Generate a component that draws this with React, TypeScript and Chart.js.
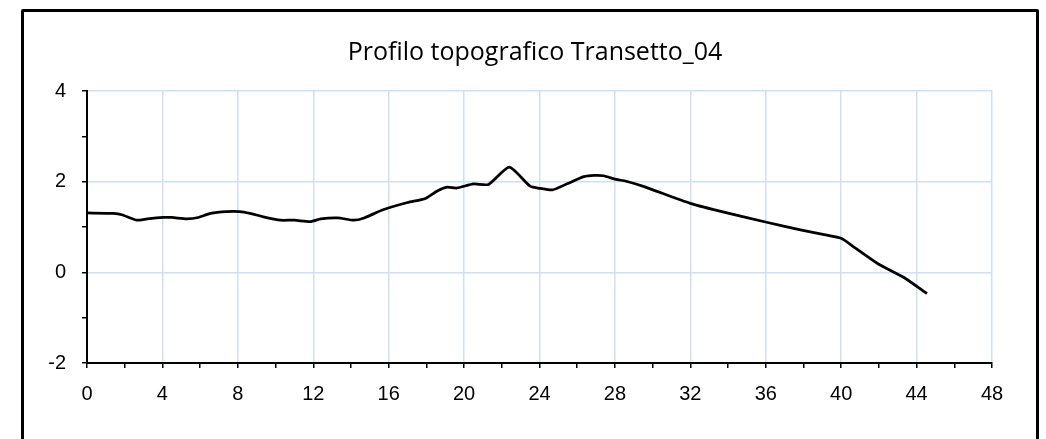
import React, { useEffect, useRef } from "react";
import { Chart, registerables } from "chart.js";

Chart.register(...registerables);

const chartTitle = "Profilo topografico Transetto_04";

const distances = [
  0, 1.4, 1.85, 2.65, 3.2, 4.05, 4.5, 5.3, 5.9, 6.55, 7.4, 8.1, 8.65, 9.3, 10.25, 11.0, 11.85, 12.4,
  13.3, 14.15, 14.7, 15.7, 17.0, 17.95, 18.6, 19.1, 19.6, 20.5, 21.3, 22.4, 23.5, 24.05, 24.7, 25.5,
  26.35, 26.9, 27.4, 28.05, 28.6, 29.55, 32.0, 33.45, 36.1, 37.9, 39.1, 40.0, 40.7, 41.95, 43.35, 44.55,
];

const elevations = [
  1.31, 1.3, 1.27, 1.15, 1.18, 1.21, 1.21, 1.18, 1.21, 1.3, 1.34, 1.34, 1.3, 1.23, 1.15, 1.15, 1.12, 1.18,
  1.2, 1.15, 1.2, 1.38, 1.54, 1.63, 1.8, 1.88, 1.86, 1.95, 1.94, 2.32, 1.9, 1.85, 1.82, 1.96,
  2.11, 2.14, 2.13, 2.05, 2.01, 1.89, 1.52, 1.36, 1.1, 0.93, 0.83, 0.75, 0.55, 0.19, -0.12, -0.47,
];

const xMin = 0;
const xMax = 48;
const xStep = 2;
const xLabelEvery = 4;
const yMin = -2;
const yMax = 4;
const yStep = 1;
const yLabelEvery = 2;

const gridColor = "#cfe0f4";
const tickFont = { family: "'Liberation Sans', Arial, sans-serif", size: 20 };

export default function App() {
  const canvasRef = useRef<HTMLCanvasElement | null>(null);

  useEffect(() => {
    const canvas = canvasRef.current;
    if (!canvas) return;

    const titlePlugin = {
      id: "customTitle",
      afterDraw(chart: any) {
        const ctx = chart.ctx;
        ctx.save();
        ctx.fillStyle = "#000";
        ctx.font = "25px 'Open Sans', 'Liberation Sans', sans-serif";
        ctx.textAlign = "center";
        ctx.textBaseline = "middle";
        ctx.fillText(chartTitle, 535, 53);
        ctx.restore();
      },
    };

    const chart = new Chart(canvas, {
      type: "line",
      data: {
        datasets: [
          {
            data: distances.map((d, i) => ({ x: d, y: elevations[i] })),
            borderColor: "#000",
            borderWidth: 2.75,
            pointRadius: 0,
            tension: 0.2,
            fill: false,
          },
        ],
      },
      options: {
        animation: false,
        responsive: false,
        maintainAspectRatio: false,
        layout: { padding: { left: 0, right: 54, top: 91, bottom: 36 } },
        plugins: {
          legend: { display: false },
          title: { display: false },
          tooltip: { enabled: false },
        },
        scales: {
          x: {
            type: "linear",
            min: xMin,
            max: xMax,
            afterFit(scale: any) {
              scale.height = 40;
            },
            ticks: {
              stepSize: xStep,
              color: "#000",
              font: tickFont,
              padding: 14,
              maxRotation: 0,
              autoSkip: false,
              callback: (v: any) => (Number(v) % xLabelEvery === 0 ? String(v) : ""),
            },
            grid: {
              color: (c: any) =>
                c.tick && c.tick.value % xLabelEvery === 0 && c.tick.value !== xMin ? gridColor : "rgba(0,0,0,0)",
              tickColor: "#000",
              tickLength: 5,
              tickWidth: 1.5,
              lineWidth: 1.5,
            },
            border: { display: true, color: "#000", width: 2 },
          },
          y: {
            type: "linear",
            min: yMin,
            max: yMax,
            afterFit(scale: any) {
              scale.width = 87;
            },
            ticks: {
              stepSize: yStep,
              color: "#000",
              font: tickFont,
              padding: 16,
              autoSkip: false,
              callback: (v: any) => (Number(v) % yLabelEvery === 0 ? String(v) : ""),
            },
            grid: {
              color: (c: any) =>
                c.tick && c.tick.value % yLabelEvery === 0 && c.tick.value !== yMin ? gridColor : "rgba(0,0,0,0)",
              tickColor: "#000",
              tickLength: 5,
              tickWidth: 1.5,
              lineWidth: 1.5,
            },
            border: { display: true, color: "#000", width: 2 },
          },
        },
      },
      plugins: [titlePlugin],
    });

    return () => chart.destroy();
  }, []);

  return (
    <div style={{ position: "fixed", left: 0, top: 0, width: 1046, height: 439, background: "#fff", overflow: "hidden" }}>
      <canvas ref={canvasRef} width={1046} height={439} style={{ position: "absolute", left: 0, top: 0 }} />
      <div
        style={{
          position: "absolute",
          left: 21,
          top: 9,
          width: 1018,
          height: 520,
          border: "3px solid #000",
          boxSizing: "border-box",
          borderRadius: 2,
          pointerEvents: "none",
        }}
      />
    </div>
  );
}
